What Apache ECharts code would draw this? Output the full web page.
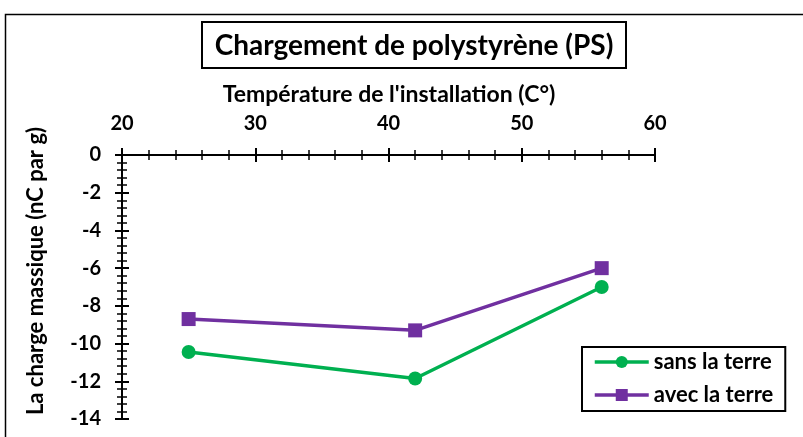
<!DOCTYPE html>
<html>
<head>
<meta charset="utf-8">
<script src="https://cdn.jsdelivr.net/npm/echarts@6/dist/echarts.min.js"></script>
<style>
  html, body { margin: 0; padding: 0; background: #fff; }
  #chart { width: 803px; height: 437px; }
</style>
</head>
<body>
<div id="chart"></div>
<script>
// Installation temperature (°C)
const temperatures = [25, 42, 56];
// Mass charge (nC per g)
const sansLaTerre = [-10.45, -11.85, -7.0];
const avecLaTerre = [-8.7, -9.3, -6.0];
const seriesNames = ['sans la terre', 'avec la terre'];
const chartTitle = 'Chargement de polystyrène (PS)';
const xName = "Température de l'installation (C°)";
const yName = 'La charge massique (nC par g)';

const FONT = 'Lato';
const GREEN = '#00B050';
const PURPLE = '#7030A0';

const pairs = (xs, ys) => xs.map((x, i) => [x, ys[i]]);

// Excel-style "cross" ticks: one axis draws outward ticks, a twin draws inward ones.
function xAxisDef(inside) {
  return {
    type: 'value', position: 'top', min: 20, max: 60, interval: 10,
    axisLine: { show: !inside, onZero: false, lineStyle: { color: '#000', width: 2 } },
    axisTick: { show: true, inside: inside, length: 7, lineStyle: { color: '#000', width: 2 } },
    minorTick: { show: true, splitNumber: 5, length: 5, lineStyle: { color: '#000', width: 1.5 } },
    axisLabel: {
      show: !inside, margin: 21, color: '#000',
      fontFamily: FONT, fontWeight: 'bold', fontSize: 20
    },
    splitLine: { show: false }, minorSplitLine: { show: false }
  };
}
function yAxisDef(inside) {
  return {
    type: 'value', position: 'left', min: -14, max: 0, interval: 2,
    axisLine: { show: !inside, onZero: false, lineStyle: { color: '#000', width: 2 } },
    axisTick: { show: true, inside: inside, length: 7, lineStyle: { color: '#000', width: 2 } },
    minorTick: { show: true, splitNumber: 5, length: 5, lineStyle: { color: '#000', width: 1.5 } },
    axisLabel: {
      show: !inside, margin: 21, color: '#000',
      fontFamily: FONT, fontWeight: 'bold', fontSize: 20
    },
    splitLine: { show: false }, minorSplitLine: { show: false }
  };
}

const chart = echarts.init(document.getElementById('chart'), null, { renderer: 'canvas' });

chart.setOption({
  animation: false,
  backgroundColor: '#fff',
  grid: { left: 122, right: 148, top: 155, bottom: 18 },
  xAxis: [xAxisDef(false), xAxisDef(true)],
  yAxis: [yAxisDef(false), yAxisDef(true)],
  legend: {
    orient: 'vertical', left: 582, top: 347,
    padding: [4, 12, 5, 11],
    itemGap: 11, itemWidth: 54, itemHeight: 15,
    borderColor: '#000', borderWidth: 2,
    lineStyle: { width: 3.5 },
    textStyle: { color: '#000', fontFamily: FONT, fontWeight: 'bold', fontSize: 22 },
    data: seriesNames
  },
  graphic: [
    {
      type: 'rect', silent: true, z: -1,
      shape: { x: 5.5, y: 14.5, width: 1000, height: 1000 },
      style: { fill: 'none', stroke: '#000', lineWidth: 1.5 }
    },
    {
      type: 'rect', silent: true,
      shape: { x: 202, y: 22, width: 424, height: 46 },
      style: { fill: '#fff', stroke: '#000', lineWidth: 2 }
    },
    {
      type: 'text', silent: true, x: 414, y: 46,
      style: {
        text: chartTitle, align: 'center', verticalAlign: 'middle',
        fill: '#000', font: 'bold 28px ' + FONT
      }
    },
    {
      type: 'text', silent: true, x: 389, y: 95,
      style: {
        text: xName, align: 'center', verticalAlign: 'middle',
        fill: '#000', font: 'bold 23px ' + FONT
      }
    },
    {
      type: 'text', silent: true, x: 36, y: 271, rotation: Math.PI / 2,
      style: {
        text: yName, align: 'center', verticalAlign: 'middle',
        fill: '#000', font: 'bold 22px ' + FONT
      }
    }
  ],
  series: [
    {
      name: seriesNames[0], type: 'line', xAxisIndex: 0, yAxisIndex: 0,
      data: pairs(temperatures, sansLaTerre),
      symbol: 'circle', symbolSize: 14,
      lineStyle: { color: GREEN, width: 3.5 },
      itemStyle: { color: GREEN }
    },
    {
      name: seriesNames[1], type: 'line', xAxisIndex: 0, yAxisIndex: 0,
      data: pairs(temperatures, avecLaTerre),
      symbol: 'rect', symbolSize: 14,
      lineStyle: { color: PURPLE, width: 3.5 },
      itemStyle: { color: PURPLE }
    }
  ]
});
</script>
</body>
</html>
